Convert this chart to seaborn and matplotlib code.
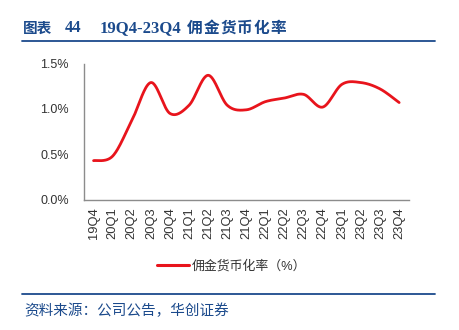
import numpy as np
import pandas as pd
import matplotlib
matplotlib.use("Agg")
import matplotlib.pyplot as plt
from matplotlib.lines import Line2D
import seaborn as sns

quarters = ["19Q4", "20Q1", "20Q2", "20Q3", "20Q4", "21Q1", "21Q2", "21Q3", "21Q4",
            "22Q1", "22Q2", "22Q3", "22Q4", "23Q1", "23Q2", "23Q3", "23Q4"]
rate = [0.43, 0.48, 0.87, 1.29, 0.95, 1.04, 1.37, 1.04, 0.99,
        1.08, 1.12, 1.16, 1.02, 1.27, 1.29, 1.22, 1.07]
series_name = "佣金货币化率（%）"
title_parts = ["图表", "44", "19Q4-23Q4", "佣金货币化率"]
source_text = "资料来源：公司公告，华创证券"

RED = "#e8141c"
BLUE = "#1b4a8c"
GRAY = "#8c8c8c"
TXT = "#333333"

sns.set_style("white")
plt.rcParams['font.family'] = ['Liberation Sans', 'Noto Sans CJK SC', 'DejaVu Sans']

# smooth (Excel-like Bezier) rendering of the series
def smooth(xs, ys, n=30):
    xs = np.asarray(xs, float); ys = np.asarray(ys, float)
    P = np.column_stack([xs, ys])
    out = []
    for i in range(len(P) - 1):
        p0 = P[i - 1] if i > 0 else P[i]
        p1 = P[i]; p2 = P[i + 1]
        p3 = P[i + 2] if i + 2 < len(P) else P[i + 1]
        c1 = p1 + (p2 - p0) / 6.0
        c2 = p2 - (p3 - p1) / 6.0
        t = np.linspace(0, 1, n, endpoint=(i == len(P) - 2))[:, None]
        seg = (1 - t) ** 3 * p1 + 3 * (1 - t) ** 2 * t * c1 + 3 * (1 - t) * t ** 2 * c2 + t ** 3 * p2
        out.append(seg)
    out = np.vstack(out)
    return out[:, 0], out[:, 1]

xpos = np.arange(len(quarters))
sx, sy = smooth(xpos, rate)
df = pd.DataFrame({"x": sx, "y": sy})

W, H = 459, 330
fig = plt.figure(figsize=(W / 100, H / 100), dpi=100)
ax = fig.add_axes([84 / W, 1 - 199.7 / H, (408.7 - 84) / W, (199.7 - 63.5) / H])
sns.lineplot(data=df, x="x", y="y", ax=ax, color=RED, linewidth=2.0, sort=False,
             estimator=None)

ax.set_xlim(-0.5, len(quarters) - 0.5)
ax.set_ylim(0, 1.5)
ax.set_yticks([0, 0.5, 1.0, 1.5])
ax.set_yticklabels(["0.0%", "0.5%", "1.0%", "1.5%"], fontsize=9, color=TXT)
ax.set_xticks(xpos)
ax.set_xticklabels(quarters, rotation=90, fontsize=9.3, color=TXT)
ax.set_xticks(np.arange(-0.5, len(quarters), 1.0), minor=True)
ax.tick_params(axis="x", which="major", length=0, pad=5.5)
ax.tick_params(axis="x", which="minor", length=3, width=0.8, color=GRAY, direction="out")
ax.tick_params(axis="y", length=3, width=0.8, color=GRAY, direction="out", pad=8)
ax.set_xlabel("")
ax.set_ylabel("")
for s in ["top", "right"]:
    ax.spines[s].set_visible(False)
for s in ["left", "bottom"]:
    ax.spines[s].set_color(GRAY)
    ax.spines[s].set_linewidth(1.0)

handle = Line2D([0], [0], color=RED, linewidth=2.2)
fig.legend([handle], [series_name], loc="center left", bbox_to_anchor=(157 / W, 1 - 266 / H),
           frameon=False, handlelength=2.45, handletextpad=0.26, borderpad=0,
           borderaxespad=0, labelcolor=TXT,
           prop={'family': ['Liberation Sans', 'Noto Sans CJK SC'], 'size': 9.3})

# title
ty = 1 - 28 / H
fig.text(22.5 / W, ty, title_parts[0], color=BLUE, fontsize=10.5, fontweight="bold",
         va="center", ha="left", family=['Noto Sans CJK SC'])
fig.text(65 / W, ty, title_parts[1], color=BLUE, fontsize=12, fontweight="bold",
         va="center", ha="left", family=['Liberation Serif'])
fig.text(100 / W, ty, title_parts[2], color=BLUE, fontsize=12, fontweight="bold",
         va="center", ha="left", family=['Liberation Serif'])
for i, ch in enumerate(title_parts[3]):
    fig.text((187 + 16.7 * i) / W, ty, ch, color=BLUE, fontsize=11.3, fontweight="bold",
             va="center", ha="left", family=['Noto Sans CJK SC'])

fig.add_artist(Line2D([22 / W, 435 / W], [1 - 41 / H, 1 - 41 / H],
                      color=BLUE, linewidth=1.3, transform=fig.transFigure))
fig.add_artist(Line2D([22 / W, 435 / W], [1 - 294 / H, 1 - 294 / H],
                      color=BLUE, linewidth=1.3, transform=fig.transFigure))
fig.text(24 / W, 1 - 311 / H, source_text, color=BLUE,
         fontsize=10.5, style="italic", va="center", ha="left",
         family=['Noto Sans CJK SC'])

fig.savefig("out.png", dpi=100)
